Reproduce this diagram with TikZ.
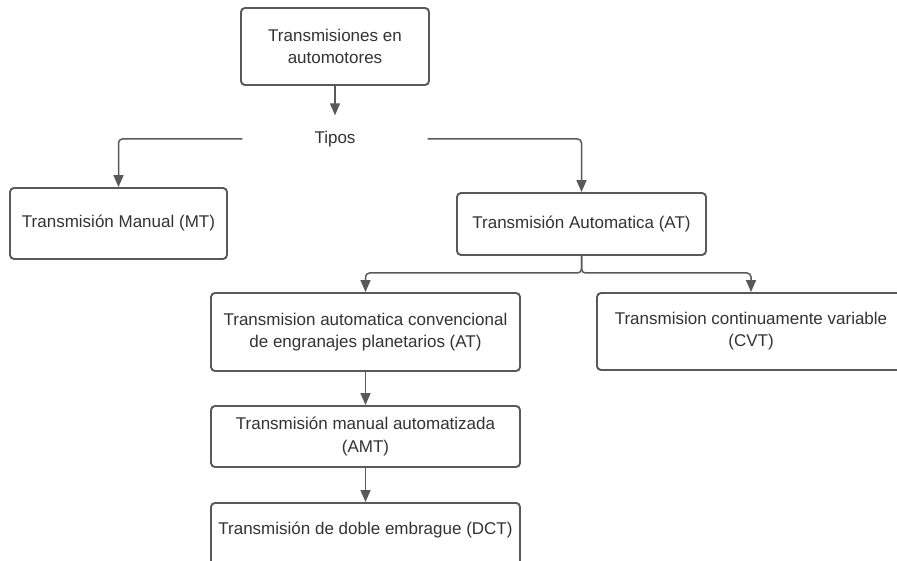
\documentclass[tikz,border=0pt]{standalone}
\usepackage{fontspec}
\setmainfont{Liberation Sans}
\usetikzlibrary{arrows.meta}
\definecolor{linegray}{HTML}{595959}
\definecolor{textgray}{HTML}{333333}
\begin{document}
\begin{tikzpicture}[x=1pt,y=-1pt,
  box/.style={draw=linegray,line width=1.9pt,rounded corners=4pt,align=center,
    text=textgray,font=\fontsize{17}{22}\selectfont,inner sep=0pt},
  conn/.style={draw=linegray,line width=1.5pt,rounded corners=4pt},
  arr/.style={conn,-{Triangle[length=12pt,width=10pt]}}]
\useasboundingbox (0,0) rectangle (897,561);
\clip (0,0) rectangle (897,561);
\fill[white] (0,0) rectangle (897,561);
\node[box,minimum width=188pt,minimum height=77pt] (top) at (335,46.5) {Transmisiones en\\automotores};
\node[align=center,text=textgray,font=\fontsize{17}{22}\selectfont,minimum width=185pt,minimum height=47pt,inner sep=0pt] (tipos) at (335,139) {Tipos};
\node[box,minimum width=217pt,minimum height=71pt] (mt) at (118.5,223.5) {Transmisión Manual (MT)};
\node[box,minimum width=249pt,minimum height=62pt] (at) at (581.5,224) {Transmisión Automatica (AT)};
\node[box,minimum width=309pt,minimum height=78pt] (conv) at (365.5,332) {Transmision automatica convencional\\de engranajes planetarios (AT)};
\node[box,minimum width=308pt,minimum height=77pt] (cvt) at (751,331.5) {Transmision continuamente variable\\(CVT)};
\node[box,minimum width=309pt,minimum height=61pt] (amt) at (365.5,436.5) {Transmisión manual automatizada\\(AMT)};
\node[box,minimum width=309pt,text height=22pt,text depth=30pt,inner ysep=10pt,anchor=north] (dct) at (365.5,502) {Transmisión de doble embrague (DCT)};
\coordinate (split) at (581.5,273);
\draw[arr] (top.south) -- (tipos.north);
\draw[arr] (tipos.west) -| (mt.north);
\draw[arr] (tipos.east) -| (at.north);
\draw[arr] (at.south) -- (split) -| (conv.north);
\draw[arr] (at.south) -- (split) -| (cvt.north);
\draw[arr] (conv.south) -- (amt.north);
\draw[arr] (amt.south) -- (dct.north);
\end{tikzpicture}
\end{document}
